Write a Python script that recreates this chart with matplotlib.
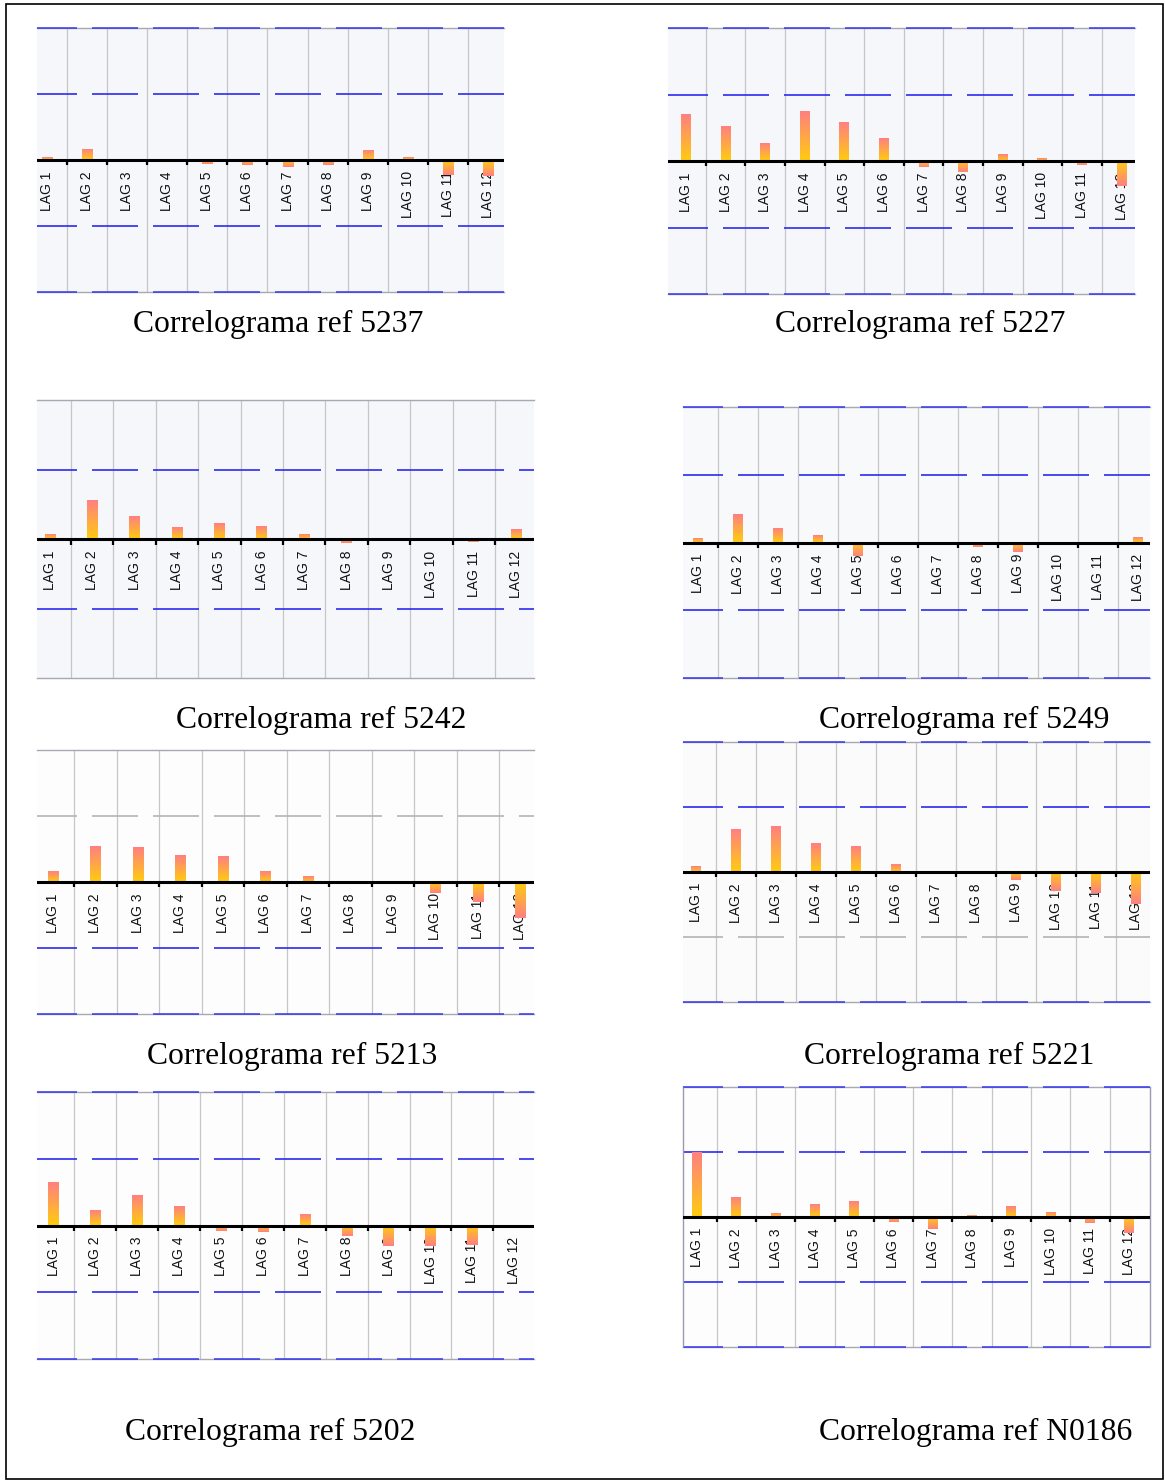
import numpy as np
import matplotlib.pyplot as plt
from matplotlib.colors import LinearSegmentedColormap
from matplotlib.patches import Rectangle

W, H = 1165, 1480

lags = list(range(1, 13))
lag_labels = [f"LAG {k}" for k in lags]
refs = ["5237", "5227", "5242", "5249", "5213", "5221", "5202", "N0186"]

acf_5237 = [0.02, 0.083, 0.0, 0.0, -0.03, -0.037, -0.05, -0.04, 0.07, 0.02, -0.11, -0.12]
acf_5227 = [0.35, 0.26, 0.13, 0.37, 0.29, 0.17, -0.045, -0.085, 0.05, 0.02, -0.03, -0.19]
acf_5242 = [0.03, 0.28, 0.16, 0.08, 0.11, 0.09, 0.03, -0.03, -0.005, 0.0, -0.02, 0.07]
acf_5249 = [0.027, 0.2, 0.1, 0.05, -0.1, -0.01, -0.01, -0.03, -0.07, 0.0, 0.0, 0.035]
acf_5213 = [0.08, 0.27, 0.26, 0.2, 0.19, 0.08, 0.045, 0.0, 0.005, -0.08, -0.15, -0.27]
acf_5221 = [0.04, 0.33, 0.35, 0.22, 0.2, 0.06, 0.0, 0.0, -0.06, -0.15, -0.16, -0.25]
acf_5202 = [0.32, 0.11, 0.22, 0.14, -0.04, -0.045, 0.075, -0.08, -0.15, -0.15, -0.145, -0.02]
acf_N0186 = [0.5, 0.15, 0.025, 0.1, 0.12, -0.035, -0.09, 0.015, 0.08, 0.035, -0.05, -0.12]

series = [acf_5237, acf_5227, acf_5242, acf_5249, acf_5213, acf_5221, acf_5202, acf_N0186]

# panel boxes in pixels: left, right, top, bottom ; x limits in lag units
boxes = [
    (37, 504, 28, 292), (668, 1135, 28, 294),
    (37, 534, 400, 678), (683, 1150, 407, 678),
    (37, 534, 750, 1014), (683, 1150, 742, 1002),
    (37, 534, 1092, 1359), (683, 1150, 1087, 1347),
]
xlims = [(0.74, 12.41), (0.545, 12.34), (0.698, 12.42), (0.633, 12.31),
         (0.624, 12.32), (0.67, 12.35), (0.606, 12.47), (0.644, 12.53)]
# title centre x and baseline y in pixels
title_pos = [(278, 332), (920, 332), (321, 728), (964, 728),
             (292, 1064), (949, 1064), (270, 1440), (976, 1440)]

BLUE, GREY = "#2a2af0", "#b4b4b4"
# colours of the lines at +1, +0.5, -0.5, -1
level_cols = [
    [BLUE, BLUE, BLUE, BLUE], [BLUE, BLUE, BLUE, BLUE],
    [None, BLUE, BLUE, None], [BLUE, BLUE, BLUE, BLUE],
    [None, GREY, BLUE, BLUE], [BLUE, BLUE, GREY, BLUE],
    [BLUE, BLUE, BLUE, BLUE], [BLUE, BLUE, BLUE, BLUE],
]
faces = ["#f6f7fa", "#f6f7fa", "#f6f7fa", "#f8f9fb",
         "#fdfdfe", "#fbfbfc", "#fdfdfe", "#fdfdfe"]

cmap = LinearSegmentedColormap.from_list("acf", ["#ffcc10", "#ff8080"])
grad = np.linspace(0, 1, 64).reshape(-1, 1)

lw_d = 1.2
dash = (6 * 0.72 / lw_d, (46 * 0.72 / lw_d, 15 * 0.72 / lw_d))

fig = plt.figure(figsize=(W / 100, H / 100), dpi=100)

for i, (vals, ref) in enumerate(zip(series, refs)):
    l, r, t, b = boxes[i]
    ax = fig.add_axes([l / W, 1 - b / H, (r - l) / W, (b - t) / H])
    ax.set_facecolor(faces[i])
    for s in ax.spines.values():
        s.set_visible(False)
    ax.set_xticks([])
    ax.set_yticks([])

    bounds = np.arange(1.5, 12)
    ax.vlines(bounds, -1, 1, color="#c6c6c6", lw=0.9, zorder=1)

    for lev, c in zip([1, 0.5, -0.5, -1], level_cols[i]):
        if abs(lev) == 1:
            ax.axhline(lev, color="#a8a8b4", lw=1.0, zorder=2, clip_on=False)
        if c is not None:
            ax.axhline(lev, color=c, lw=lw_d, ls=dash, zorder=2,
                       alpha=0.85 if abs(lev) == 1 else 1, clip_on=False)

    for k, lab in zip(lags, lag_labels):
        ax.text(k, -0.085, lab, rotation=90, ha="center", va="top",
                fontsize=10, family="Liberation Sans", color="#111111", zorder=3)

    for k, v in zip(lags, vals):
        if v == 0:
            continue
        ax.imshow(grad, extent=[k - 0.125, k + 0.125, 0, v], origin="lower",
                  aspect="auto", cmap=cmap, interpolation="bilinear", zorder=4)

    ax.axhline(0, color="black", lw=2.2, zorder=5)
    ax.vlines(bounds, -0.04, 0, color="black", lw=1.6, zorder=5)

    ax.set_xlim(*xlims[i])
    ax.set_ylim(-1, 1)

    if ref == "N0186":
        ax.vlines([xlims[i][0], xlims[i][1]], -1, 1, color="#9a9ab0", lw=1.0,
                  zorder=2, clip_on=False)

    tx, ty = title_pos[i]
    fig.text(tx / W, 1 - ty / H, f"Correlograma ref {ref}", ha="center",
             va="baseline", fontsize=22.8, family="Liberation Serif")

fig.add_artist(Rectangle((6 / W, 1 - 1479 / H), (1163 - 6) / W, (1479 - 4) / H,
                         transform=fig.transFigure, fill=False,
                         ec="black", lw=1.2))

fig.savefig("out.png", dpi=100)
